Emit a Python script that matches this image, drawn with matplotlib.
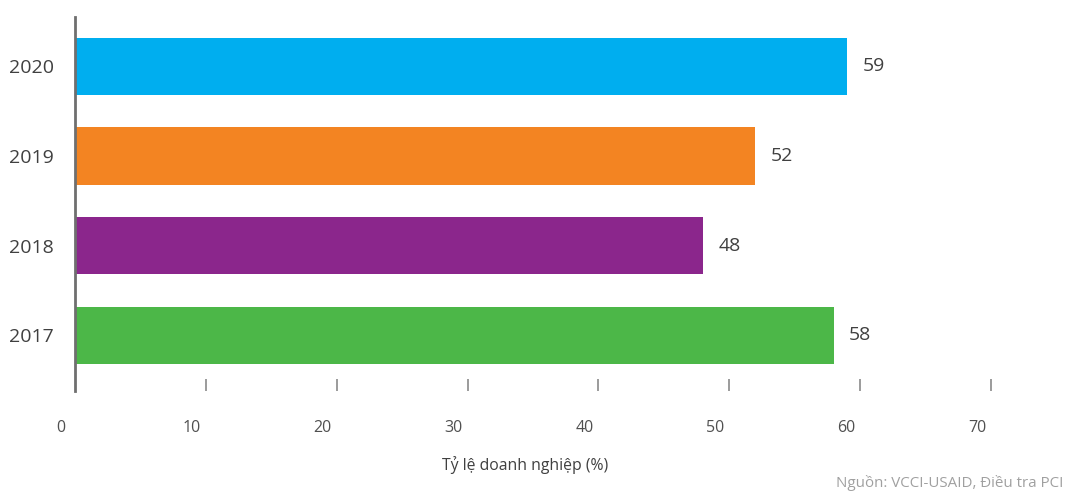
import matplotlib.pyplot as plt
from matplotlib.transforms import offset_copy

plt.rcParams['font.family'] = ['Open Sans', 'DejaVu Sans']

# --- Data ---
years = ['2017', '2018', '2019', '2020']
shares = [58, 48, 52, 59]
bar_colors = ['#4CB748', '#8B268C', '#F38422', '#00AEEF']
x_ticks = [0, 10, 20, 30, 40, 50, 60, 70]

W, H = 1067, 491
fig = plt.figure(figsize=(W / 100, H / 100), dpi=100)
ax = fig.add_axes([75 / W, 1 - 391 / H, (991 - 75) / W, (391 - 17) / H])

y_pos = range(len(years))
ax.barh(y_pos, shares, height=0.64, color=bar_colors, zorder=2)
ax.set_xlim(0, 70)
ax.set_ylim(-0.62, 3.55)

# value labels to the right of each bar
for i, v in enumerate(shares):
    ax.annotate(f'{v}', (v, i), xytext=(11, 0), textcoords='offset points',
                va='center', ha='left', fontsize=14, color='#404040')

# axis styling: only the left spine is shown
for side in ['top', 'right', 'bottom']:
    ax.spines[side].set_visible(False)
ax.spines['left'].set_color('#6f6f6f')
ax.spines['left'].set_linewidth(2)

ax.set_yticks(list(y_pos))
ax.set_yticklabels(years, fontsize=14, color='#404040')
ax.tick_params(axis='y', length=0, pad=15)

# short tick marks drawn up from the baseline, labels set below and a bit left
ax.set_xticks(x_ticks[1:])
ax.set_xticklabels([])
ax.tick_params(axis='x', direction='in', length=9, width=1.2, color='#8a8a8a')
lbl_tr = offset_copy(ax.get_xaxis_transform(), fig=fig, x=-10, y=0, units='points')
for t in x_ticks:
    ax.text(t, -0.1, str(t), transform=lbl_tr, ha='center', va='center',
            fontsize=11.5, color='#505050')

fig.text(525 / W, 1 - 465 / H, 'Tỷ lệ doanh nghiệp (%)', ha='center', va='center',
         fontsize=11.3, color='#404040')
fig.text(1063 / W, 1 - 483 / H, 'Nguồn: VCCI-USAID, Điều tra PCI', ha='right',
         va='center', fontsize=10.9, color='#a0a0a0')

fig.savefig('out.png', dpi=100)
